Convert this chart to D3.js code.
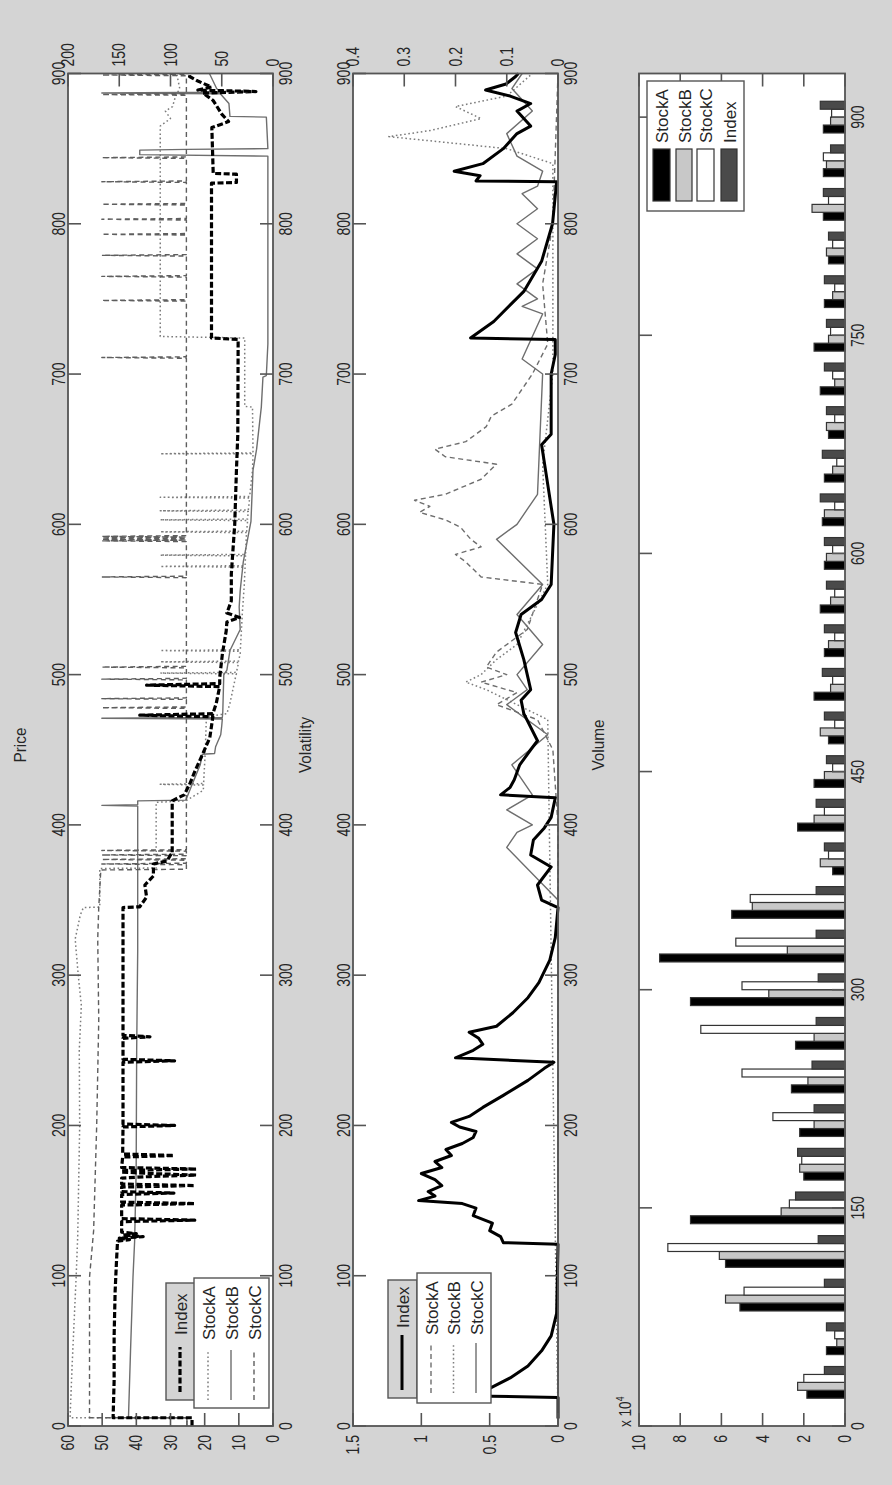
<!DOCTYPE html>
<html><head><meta charset="utf-8">
<script src="https://cdn.jsdelivr.net/npm/d3@7"></script>
<style>
html,body{margin:0;padding:0;background:#d4d4d4;}
svg{display:block;}
text{font-family:"Liberation Sans",Arial,Helvetica,sans-serif;}
</style></head><body>
<svg id="c" width="892" height="1485"></svg>
<script>
// ---------------- DATA ----------------
const xTicks = [0,100,200,300,400,500,600,700,800,900];
const priceLeftTicks = [0,10,20,30,40,50,60];
const priceRightTicks = [0,50,100,150,200];
const volLeftTicks = [0,0.5,1,1.5];
const volRightTicks = [0,0.1,0.2,0.3,0.4];
const volumeXTicks = [0,150,300,450,600,750,900];
const volumeYTicks = [0,2,4,6,8,10];
const seriesNames = ["Index","StockA","StockB","StockC"];
const volumeNames = ["StockA","StockB","StockC","Index"];

// Price (Index on left axis, stocks on right axis)
const priceIndex = [[0,23.7],[5.5,23.7],[5.5,46.8],[30,46.5],[60,46.5],[90,46.2],[110,45.8],[123,45.5],
 [124,42],[125,45],[126,38],[127,44],[128,40],[129,44.3],[136,44.3],[137,22.9],[138,44.3],
 [147,44.3],[148,22.9],[149,44.3],[154,44.3],[155,29],[156,44.3],[159,44.3],[160,22.9],[161,44.3],
 [165,44.3],[166,36],[167,22.4],[168,36],[169,44.3],[170,44.3],[171,22.4],[172,44.3],
 [179,44],[180,29],[181,44],[199,43.9],[200,28.8],[201,43.9],[242,43.9],[243,28.8],[244,43.9],
 [258,43.9],[259,36],[260,43.9],[345,43.9],[345.5,39],[352,37],[360,37.5],[366,35],[374,35],
 [376,31],[380,30],[381,29.5],[416,29.5],[420,26],[427,24.4],[435,23],[445,21],[458,18.5],
 [472,17.6],[473,39],[474,17.6],[481,16.6],[492,15.6],[493,37],[494,15.6],[498,15.6],[514,14.8],
 [529,13.7],[535,13.5],[538,9.8],[541,13.5],[549,12.2],[567,12.2],[600,11.2],[636,10.7],[660,10.3],
 [723,10.2],[724,18],[827,18],[827.5,10.7],[833,10.7],[833.5,17.5],[864,17.9],[868,13],[873,15],
 [882,17.5],[887,20.5],[888,5],[889,22],[891,18],[895,22],[898,24.4],[900,24]];
const priceA = [[0,84],[5.5,84],[5.5,198],[40,196],[70,194],[100,192],[127,190.5],[200,188.6],[250,189],
 [280,187],[300,190],[324,193],[340,188],[345,185],[345.3,169],[371,169],[371.3,114],[415,114],[416,85],
 [423,68],[450,66],[472,65],[474,45],[481,42],[500,36],[514,32],[540,30],[560,28],[592,26],[610,24],
 [636,20],[647,19.5],[678,20],[678.5,27.6],[724,27.6],[725,110],[865,110],[870,100],[875,105],[878,98],
 [885,95],[890,91],[900,94]];
const priceASpikes = [[427,110],[501,110],[508.5,110],[516,110],[572,110],[579.5,110],[595,110],[603,110],[609,110],[618,110],[647,110]];
const priceB = [[0,84],[5.5,84],[5.5,141],[50,139],[99,136.6],[123,135],[170,133.5],[250,133],[316,132],
 [345,132],[416,132],[416.5,85],[425,80],[440,71],[447,69],[447.5,57],[452,56],[460,51],[466,50],
 [475,49],[500,48],[503,45],[516,42],[530,32],[545,33],[556,32],[575,29],[602,21.5],[636,19.5],
 [650,16],[678,11.4],[698,9.8],[699,6.5],[720,5],[845,5],[846,130],[849,130],[849.5,84],[850,5],
 [871,6.5],[871.5,42],[880,43],[890,55],[900,62]];
const priceBSpikes = [[413,167],[471,167],[887,167]];
const priceC = [[0,84],[5.5,84],[5.5,179],[99,179],[130,175],[200,172],[270,170],[324,171],[345,170],
 [370,168],[370.5,84.5],[900,84.5]];
const priceCSpikes = [[374,167],[377,167],[380,167],[383,167],[478,167],[484,167],[497,167],[505,167],
 [565,167],[589,167],[590,167],[591,167],[592,167],[711,167],[749,167],[765,167],[779,167],[793,167],
 [803,167],[813,167],[828,167],[844,167],[886,167],[899,167]];

// Volatility (Index on left axis, stocks on right axis)
const volIndex = [[5,0],[19,0],[20,0.62],[25,0.5],[32,0.35],[40,0.22],[50,0.12],[60,0.05],[75,0.01],[121,0],
 [122,0.4],[126,0.42],[130,0.5],[135,0.48],[140,0.62],[145,0.6],[148,0.7],[150,1.02],[153,0.9],[156,0.95],
 [160,0.85],[164,0.9],[168,1.0],[172,0.85],[176,0.9],[180,0.78],[184,0.82],[188,0.7],[192,0.62],[196,0.6],
 [199,0.72],[202,0.78],[206,0.65],[212,0.55],[220,0.4],[230,0.22],[238,0.1],[242,0.03],[245,0.75],
 [250,0.62],[254,0.55],[258,0.58],[262,0.65],[266,0.45],[275,0.33],[285,0.22],[295,0.14],[310,0.06],
 [325,0.02],[345,0],[350,0.12],[360,0.15],[372,0.05],[380,0.2],[390,0.18],[398,0.1],[405,0.05],[418,0.02],
 [420,0.42],[425,0.35],[430,0.32],[440,0.28],[450,0.2],[456,0.15],[474,0.25],[483,0.27],[490,0.2],
 [498,0.22],[510,0.25],[522,0.29],[528,0.31],[534,0.29],[540,0.27],[550,0.12],[560,0.05],[600,0.03],
 [653,0.12],[660,0.05],[700,0.05],[713,0.02],[723,0.02],[724,0.64],[735,0.47],[755,0.25],[775,0.12],
 [800,0.04],[828,0.01],[828.5,0.6],[832,0.57],[835,0.76],[840,0.55],[850,0.4],[860,0.3],[865,0.2],
 [870,0.25],[875,0.3],[880,0.2],[885,0.35],[889,0.53],[893,0.38],[898,0.31],[900,0.29]];
const volA = [[5,0],[400,0],[450,0.01],[470,0.04],[480,0.12],[488,0.08],[495,0.15],[500,0.1],[505,0.14],
 [515,0.12],[530,0.06],[560,0.03],[565,0.15],[575,0.18],[580,0.2],[585,0.15],[590,0.17],[598,0.19],
 [603,0.22],[608,0.27],[612,0.25],[616,0.28],[620,0.22],[630,0.15],[640,0.12],[645,0.22],[650,0.24],
 [655,0.18],[665,0.14],[672,0.13],[680,0.09],[700,0.05],[720,0.02],[760,0.03],[800,0.01],[900,0]];
const volB = [[5,0],[470,0.02],[480,0.08],[490,0.14],[495,0.18],[500,0.15],[510,0.12],[520,0.08],[560,0.02],
 [640,0.03],[700,0.01],[840,0.01],[850,0.1],[858,0.33],[862,0.25],[870,0.15],[878,0.2],[885,0.1],[900,0.05]];
const volC = [[5,0],[350,0],[385,0.1],[395,0.08],[400,0.05],[410,0.1],[420,0.05],[440,0.09],[460,0.02],
 [480,0.1],[490,0.06],[500,0.08],[520,0.03],[540,0.08],[560,0.03],[590,0.12],[600,0.08],[620,0.04],
 [700,0.03],[710,0.07],[740,0.03],[745,0.07],[750,0.04],[760,0.08],[770,0.04],[780,0.08],[790,0.04],
 [800,0.08],[810,0.04],[820,0.07],[825,0.04],[835,0.03],[845,0.08],[860,0.1],[875,0.05],[890,0.09],[900,0.07]];

// Volume (x 10^4), grouped bars
const volumeX = [30,60,90,120,150,180,210,240,270,300,330,360,390,420,450,480,510,540,570,600,630,660,690,720,750,780,810,840,870,900];
const volumeA = [1.85,0.9,5.1,5.8,7.5,2.0,2.2,2.6,2.4,7.5,9.0,5.5,0.6,2.3,1.5,0.8,1.5,1.0,1.2,1.0,1.1,1.0,0.8,1.2,1.5,1.0,0.8,1.05,1.05,1.05];
const volumeB = [2.3,0.4,5.8,6.1,3.1,2.2,1.5,1.8,1.5,3.7,2.8,4.5,1.2,1.5,1.0,1.2,0.7,0.8,0.7,0.9,1.0,0.6,0.9,0.5,0.8,0.6,0.9,1.6,0.9,0.7];
const volumeC = [2.0,0.5,4.9,8.6,2.7,2.1,3.5,5.0,7.0,5.0,5.3,4.6,0.8,1.0,0.6,0.5,0.6,0.5,0.5,0.6,0.5,0.4,0.5,0.6,0.7,0.5,0.6,0.8,1.05,0.65];
const volumeI = [1.0,0.9,1.0,1.3,2.4,2.3,1.5,1.6,1.4,1.3,1.4,1.4,1.0,1.4,0.9,1.0,1.1,1.0,0.9,1.0,1.2,1.1,0.9,1.0,0.9,1.0,0.8,1.05,0.7,1.2];

// ---------------- DRAWING ----------------
const svg = d3.select('#c');
svg.append('rect').attr('width',892).attr('height',1485).attr('fill','#d4d4d4');
// draw in the original landscape frame (1485 x 892), rotated 90deg counter-clockwise
const g = svg.append('g').attr('transform','translate(0,1485) rotate(-90)');
const X0 = 59, X1 = 1411.5;
const axisColor = '#555', textColor = '#262626';
const TICK_FS = 17.5, TICK_SX = 0.8, TL = 13;

function label(parent, x, y, s, anchor, fs, sx, base) {
  return parent.append('text')
    .attr('transform', `translate(${x},${y}) scale(${sx},1)`)
    .attr('text-anchor', anchor)
    .attr('dominant-baseline', base || 'auto')
    .attr('font-size', fs).attr('fill', textColor).text(s);
}
function interp(arr, x) {
  for (let i = 0; i < arr.length - 1; i++) {
    const a = arr[i], b = arr[i+1];
    if (x >= a[0] && x <= b[0]) {
      if (b[0] === a[0]) return b[1];
      return a[1] + (b[1]-a[1]) * (x-a[0])/(b[0]-a[0]);
    }
  }
  return arr[arr.length-1][1];
}
function withSpikes(base, spikes) {
  const pts = base.map((d,i) => [d[0], d[1], i*3]);
  spikes.forEach(([x,p], k) => {
    const b = interp(base, x);
    pts.push([x-0.5, b, 1e6+k*3], [x, p, 1e6+k*3+1], [x+0.5, b, 1e6+k*3+2]);
  });
  pts.sort((a,b) => a[0]-b[0] || a[2]-b[2]);
  return pts.map(d => [d[0], d[1]]);
}

function panel(top, bottom) {
  const p = g.append('g');
  p.append('rect').attr('x',X0).attr('y',top).attr('width',X1-X0).attr('height',bottom-top).attr('fill','#fff');
  return p;
}
function frame(p, top, bottom) {
  p.append('rect').attr('x',X0).attr('y',top).attr('width',X1-X0).attr('height',bottom-top)
    .attr('fill','none').attr('stroke',axisColor).attr('stroke-width',1.8);
}
function xAxes(p, xs, ticks, top, bottom, labelTop, labelBottom) {
  ticks.forEach(t => {
    const x = xs(t);
    p.append('line').attr('x1',x).attr('x2',x).attr('y1',top).attr('y2',top+TL).attr('stroke',axisColor).attr('stroke-width',1.6);
    p.append('line').attr('x1',x).attr('x2',x).attr('y1',bottom).attr('y2',bottom-TL).attr('stroke',axisColor).attr('stroke-width',1.6);
    if (labelTop) label(p, x, top-3, t, 'middle', TICK_FS, TICK_SX);
    if (labelBottom) label(p, x, bottom+19, t, 'middle', TICK_FS, TICK_SX);
  });
}
function yAxis(p, ys, ticks, side, fmt) {
  ticks.forEach(t => {
    const y = ys(t);
    if (side === 'left') {
      p.append('line').attr('x1',X0).attr('x2',X0+TL).attr('y1',y).attr('y2',y).attr('stroke',axisColor).attr('stroke-width',1.6);
      label(p, X0-9, y, fmt(t), 'end', TICK_FS, TICK_SX, 'central');
    } else {
      p.append('line').attr('x1',X1).attr('x2',X1-TL).attr('y1',y).attr('y2',y).attr('stroke',axisColor).attr('stroke-width',1.6);
      label(p, X1+7, y, fmt(t), 'start', TICK_FS, TICK_SX, 'central');
    }
  });
}
function drawLine(p, data, xs, ys, style) {
  const line = d3.line().x(d => xs(d[0])).y(d => ys(d[1]));
  p.append('path').attr('d', line(data)).attr('fill','none')
    .attr('stroke', style.color).attr('stroke-width', style.width)
    .attr('stroke-dasharray', style.dash || null).attr('stroke-linejoin','round');
}
const fmt = d => String(d);

// ---- Price panel ----
const xP = d3.scaleLinear().domain([0,900]).range([X0,X1]);
{
  const top = 68, bottom = 273;
  const yL = d3.scaleLinear().domain([0,60]).range([bottom, top]);
  const yR = d3.scaleLinear().domain([0,200]).range([bottom, top]);
  const p = panel(top, bottom);
  const sA = {color:'#7c7c7c', width:1.5, dash:'1.6,2.6'};
  const sB = {color:'#6e6e6e', width:1.4};
  const sC = {color:'#5e5e5e', width:1.4, dash:'5,3.5'};
  const sI = {color:'#000', width:3.2, dash:'6,2.5'};
  drawLine(p, withSpikes(priceA, priceASpikes), xP, yR, sA);
  drawLine(p, withSpikes(priceB, priceBSpikes), xP, yR, sB);
  drawLine(p, withSpikes(priceC, priceCSpikes), xP, yR, sC);
  drawLine(p, priceIndex, xP, yL, sI);
  frame(p, top, bottom);
  xAxes(p, xP, xTicks, top, bottom, true, true);
  yAxis(p, yL, priceLeftTicks, 'left', fmt);
  yAxis(p, yR, priceRightTicks, 'right', fmt);
  label(g, 740, 26, 'Price', 'middle', 17, 0.9);
  // legends
  const l1 = g.append('g');
  l1.append('rect').attr('x',85).attr('y',166).attr('width',117).attr('height',29).attr('fill','#d4d4d4').attr('stroke',axisColor).attr('stroke-width',1.4);
  l1.append('line').attr('x1',93).attr('x2',138).attr('y1',180).attr('y2',180).attr('stroke',sI.color).attr('stroke-width',sI.width).attr('stroke-dasharray',sI.dash);
  label(l1, 150, 181, seriesNames[0], 'start', 17, 1, 'central');
  const l2 = g.append('g');
  l2.append('rect').attr('x',77).attr('y',194).attr('width',130).attr('height',75).attr('fill','#fff').attr('stroke',axisColor).attr('stroke-width',1.4);
  [sA,sB,sC].forEach((s,i) => {
    const y = 208 + i*23;
    l2.append('line').attr('x1',85).attr('x2',135).attr('y1',y).attr('y2',y).attr('stroke',s.color).attr('stroke-width',s.width).attr('stroke-dasharray',s.dash||null);
    label(l2, 145, y+1, seriesNames[i+1], 'start', 17, 1, 'central');
  });
}

// ---- Volatility panel ----
{
  const top = 353, bottom = 558;
  const yL = d3.scaleLinear().domain([0,1.5]).range([bottom, top]);
  const yR = d3.scaleLinear().domain([0,0.4]).range([bottom, top]);
  const p = panel(top, bottom);
  const sA = {color:'#6e6e6e', width:1.4, dash:'5,3.5'};
  const sB = {color:'#7c7c7c', width:1.5, dash:'1.6,2.6'};
  const sC = {color:'#6e6e6e', width:1.4};
  const sI = {color:'#000', width:3};
  drawLine(p, volA, xP, yR, sA);
  drawLine(p, volB, xP, yR, sB);
  drawLine(p, volC, xP, yR, sC);
  drawLine(p, volIndex, xP, yL, sI);
  frame(p, top, bottom);
  xAxes(p, xP, xTicks, top, bottom, true, true);
  yAxis(p, yL, volLeftTicks, 'left', fmt);
  yAxis(p, yR, volRightTicks, 'right', fmt);
  label(g, 740, 311, 'Volatility', 'middle', 17, 0.9);
  const l1 = g.append('g');
  l1.append('rect').attr('x',87).attr('y',388).attr('width',118).attr('height',29).attr('fill','#d4d4d4').attr('stroke',axisColor).attr('stroke-width',1.4);
  l1.append('line').attr('x1',95).attr('x2',150).attr('y1',402).attr('y2',402).attr('stroke',sI.color).attr('stroke-width',sI.width);
  label(l1, 157, 403, seriesNames[0], 'start', 17, 1, 'central');
  const l2 = g.append('g');
  l2.append('rect').attr('x',82).attr('y',417).attr('width',130).attr('height',74).attr('fill','#fff').attr('stroke',axisColor).attr('stroke-width',1.4);
  [sA,sB,sC].forEach((s,i) => {
    const y = 431 + i*22.5;
    l2.append('line').attr('x1',92).attr('x2',142).attr('y1',y).attr('y2',y).attr('stroke',s.color).attr('stroke-width',s.width).attr('stroke-dasharray',s.dash||null);
    label(l2, 150, y+1, seriesNames[i+1], 'start', 17, 1, 'central');
  });
}

// ---- Volume panel ----
{
  const top = 639, bottom = 845;
  const xs = d3.scaleLinear().domain([0,930]).range([X0,X1]);
  const ys = d3.scaleLinear().domain([0,10]).range([bottom, top]);
  const p = panel(top, bottom);
  const fills = ['#000','#c8c8c8','#fff','#4a4a4a'];
  const series = [volumeA, volumeB, volumeC, volumeI];
  const groupW = 21.8; // data units per group
  const bw = groupW/4;
  volumeX.forEach((x,i) => {
    series.forEach((s,k) => {
      const x0 = x - groupW/2 + k*bw;
      p.append('rect').attr('x', xs(x0)).attr('width', xs(x0+bw)-xs(x0))
        .attr('y', ys(s[i])).attr('height', ys(0)-ys(s[i]))
        .attr('fill', fills[k]).attr('stroke','#333').attr('stroke-width',1.2);
    });
  });
  frame(p, top, bottom);
  volumeXTicks.forEach(t => {
    const x = xs(t);
    p.append('line').attr('x1',x).attr('x2',x).attr('y1',top).attr('y2',top+TL).attr('stroke',axisColor).attr('stroke-width',1.6);
    p.append('line').attr('x1',x).attr('x2',x).attr('y1',bottom).attr('y2',bottom-TL).attr('stroke',axisColor).attr('stroke-width',1.6);
    label(p, x, bottom+19, t, 'middle', TICK_FS, TICK_SX);
  });
  volumeYTicks.forEach(t => {
    const y = ys(t);
    p.append('line').attr('x1',X0).attr('x2',X0+TL).attr('y1',y).attr('y2',y).attr('stroke',axisColor).attr('stroke-width',1.6);
    p.append('line').attr('x1',X1).attr('x2',X1-TL).attr('y1',y).attr('y2',y).attr('stroke',axisColor).attr('stroke-width',1.6);
    label(p, X0-9, y, t, 'end', TICK_FS, TICK_SX, 'central');
  });
  const ex = label(g, 58, 631, '', 'start', 16, 0.85);
  ex.append('tspan').text('x 10');
  ex.append('tspan').attr('dy',-7).attr('font-size',10).text('4');
  label(g, 740, 604, 'Volume', 'middle', 17, 0.9);
  const lg = g.append('g');
  lg.append('rect').attr('x',1274).attr('y',647).attr('width',130).attr('height',97).attr('fill','#fff').attr('stroke',axisColor).attr('stroke-width',1.4);
  const sw = [[653,670],[676,692],[697,714],[721,737]];
  volumeNames.forEach((n,k) => {
    lg.append('rect').attr('x',1284).attr('width',52).attr('y',sw[k][0]).attr('height',sw[k][1]-sw[k][0])
      .attr('fill',fills[k]).attr('stroke','#333').attr('stroke-width',1.2);
    label(lg, 1342, (sw[k][0]+sw[k][1])/2+1, n, 'start', 17, 1, 'central');
  });
}
</script>
</body></html>
